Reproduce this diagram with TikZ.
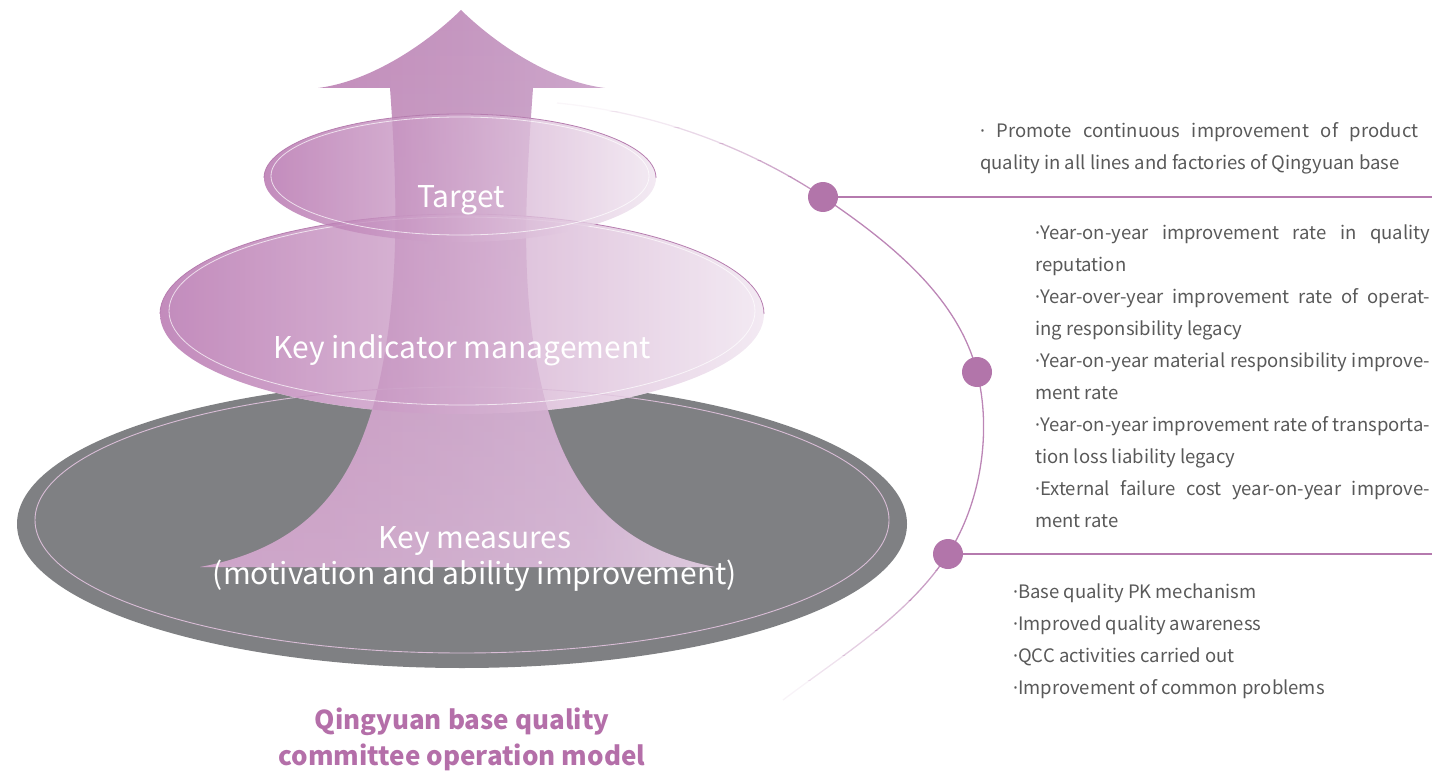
\documentclass[tikz,border=0pt]{standalone}
\usepackage{fontspec}
\setmainfont{Noto Sans CJK SC}
\newfontfamily\bulletfont{Noto Sans}
\usetikzlibrary{fadings}
\definecolor{layerL}{HTML}{B46FAC}
\definecolor{layerM}{HTML}{CCA2C9}
\definecolor{layerR}{HTML}{F0E5F0}
\definecolor{aS0}{HTML}{C088B8}
\definecolor{aS1}{HTML}{C28BBA}
\definecolor{aS2}{HTML}{C596C0}
\definecolor{aS3}{HTML}{CBA3C9}
\definecolor{aS4}{HTML}{D8C0D7}
\definecolor{lavender}{HTML}{E6DDE8}
\definecolor{baseGray}{HTML}{7F8083}
\definecolor{baseRim}{HTML}{D9BDD6}
\definecolor{rimPink}{HTML}{B67DAF}
\definecolor{dotPink}{HTML}{B275AA}
\definecolor{linePink}{HTML}{B57AAE}
\definecolor{arcPink}{HTML}{BC86B6}
\definecolor{titlePink}{HTML}{B46FA9}
\definecolor{textGray}{HTML}{595959}
% horizontal colour run of the arrow (the path box maps to 25bp..75bp)
\pgfdeclarehorizontalshading{arrowshade}{100bp}{color(0bp)=(aS0); color(25bp)=(aS0);
  color(37bp)=(aS1); color(50bp)=(aS2); color(63bp)=(aS3); color(75bp)=(aS4); color(100bp)=(aS4)}
\tikzfading[name=arrowfade, top color=transparent!100, bottom color=transparent!65]
\newcommand{\jl}[2]{\makebox[#1][s]{#2}}
\newcommand{\bul}{{\bulletfont ·}}
\tikzset{
  layer/.style={fill opacity=0.8, left color=layerL, middle color=layerM, right color=layerR},
  rim/.style={draw=rimPink, line width=0.8pt},
  innerrim/.style={draw=white, draw opacity=0.7, line width=0.8pt},
  hub/.style={circle, fill=dotPink, minimum size=30pt, inner sep=0pt},
  bigtext/.style={text=white, font=\fontsize{30}{36}\selectfont, align=center},
  sidetext/.style={text=textGray, font=\fontsize{18.5}{32}\selectfont, align=left, inner sep=0pt},
  leader/.style={draw=linePink, line width=1.6pt},
  arrowpath/.style={insert path={
    (461,10) .. controls (500,48) and (555,82) .. (605,88)
    -- (533,88)
    .. controls (525,200) and (519,300) .. (545,400)
    .. controls (565,470) and (600,545) .. (715,567)
    -- (200,567)
    .. controls (320,545) and (355,470) .. (375,400)
    .. controls (400,300) and (398,200) .. (390,88)
    -- (318,88) .. controls (367,82) and (422,48) .. (461,10) -- cycle}},
}
\begin{document}
\begin{tikzpicture}[x=1pt,y=-1pt]
\path[use as bounding box] (0,0) rectangle (1432,773);

% base disc
\fill[baseGray] (462,524) ellipse [x radius=445pt, y radius=144pt];

% the layers sit on a white ground that hides the disc
\fill[white] (462,314) ellipse [x radius=302pt, y radius=100pt];
\fill[white] (460,178) ellipse [x radius=196pt, y radius=64pt];

% upward arrow: pink run from left to right, paler towards the foot
\shade[shading=arrowshade, arrowpath];
\fill[lavender, path fading=arrowfade, arrowpath];

% rim of the disc, seen through the layers
\draw[draw=baseRim, line width=0.9pt] (462,520) ellipse [x radius=427pt, y radius=133pt];

% middle layer
\shade[layer] (462,314) ellipse [x radius=302pt, y radius=100pt];
\draw[innerrim] (462,311) ellipse [x radius=293pt, y radius=94pt];
\draw[rim] (160,314) arc[start angle=180, end angle=360, x radius=302pt, y radius=-100pt];

% top layer
\shade[layer] (460,178) ellipse [x radius=196pt, y radius=64pt];
\draw[innerrim] (460,176) ellipse [x radius=189pt, y radius=59pt];
\draw[rim] (264,178) arc[start angle=180, end angle=360, x radius=196pt, y radius=-64pt];

% labels on the layers
\node[bigtext] (target) at (461,200) {Target};
\node[bigtext] (kim) at (462,350) {Key indicator management};
\node[bigtext] (km) at (475,559) {Key measures\\(motivation and ability improvement)};

% title
\node[text=titlePink, font=\bfseries\fontsize{26}{36}\selectfont, align=center] (title) at (462,739)
  {Qingyuan base quality\\committee operation model};

% hub positions
\coordinate (p1) at (823,197);
\coordinate (p2) at (977,372);
\coordinate (p3) at (948,554);

% guiding arc through the hubs, fading at both ends
\foreach \ya/\yb/\op in {95/112/0.08, 112/128/0.18, 128/144/0.32, 144/160/0.5, 160/176/0.7,
  176/190/0.88, 190/570/1, 570/600/0.8, 600/630/0.6, 630/655/0.4, 655/680/0.24, 680/710/0.1}{
  \begin{scope}
    \clip (500,\ya) rectangle (1000,\yb);
    \draw[arcPink, line width=1.3pt, draw opacity=\op]
      (557,103) .. controls (651,112) and (745,145) .. (p1)
      .. controls (888,241) and (958,296) .. (p2)
      .. controls (992,431) and (981,503) .. (p3)
      .. controls (909,615) and (841,656) .. (783,700);
  \end{scope}
}

% hubs and leaders
\node[hub] (h1) at (p1) {};
\node[hub] (h2) at (p2) {};
\node[hub] (h3) at (p3) {};
\coordinate (e1) at (1432,197);
\coordinate (e3) at (1432,554);
\draw[leader] (h1) -- (e1);
\draw[leader] (h3) -- (e3);

% side texts
\node[sidetext, anchor=north west] (t1) at (980,122)
  {\jl{438pt}{\bul\ Promote continuous improvement of product}\\quality in all lines and factories of Qingyuan base};
\node[sidetext, anchor=north west] (t2) at (1035,225)
  {\jl{395pt}{\bul Year-on-year improvement rate in quality}\\reputation\\
   \jl{395pt}{\bul Year-over-year improvement rate of operat-}\\ing responsibility legacy\\
   \jl{395pt}{\bul Year-on-year material responsibility improve-}\\ment rate\\
   \jl{395pt}{\bul Year-on-year improvement rate of transporta-}\\tion loss liability legacy\\
   \jl{395pt}{\bul External failure cost year-on-year improve-}\\ment rate};
\node[sidetext, anchor=north west] (t3) at (1013,584)
  {\bul Base quality PK mechanism\\\bul Improved quality awareness\\\bul QCC activities carried out\\\bul Improvement of common problems};
\end{tikzpicture}
\end{document}
